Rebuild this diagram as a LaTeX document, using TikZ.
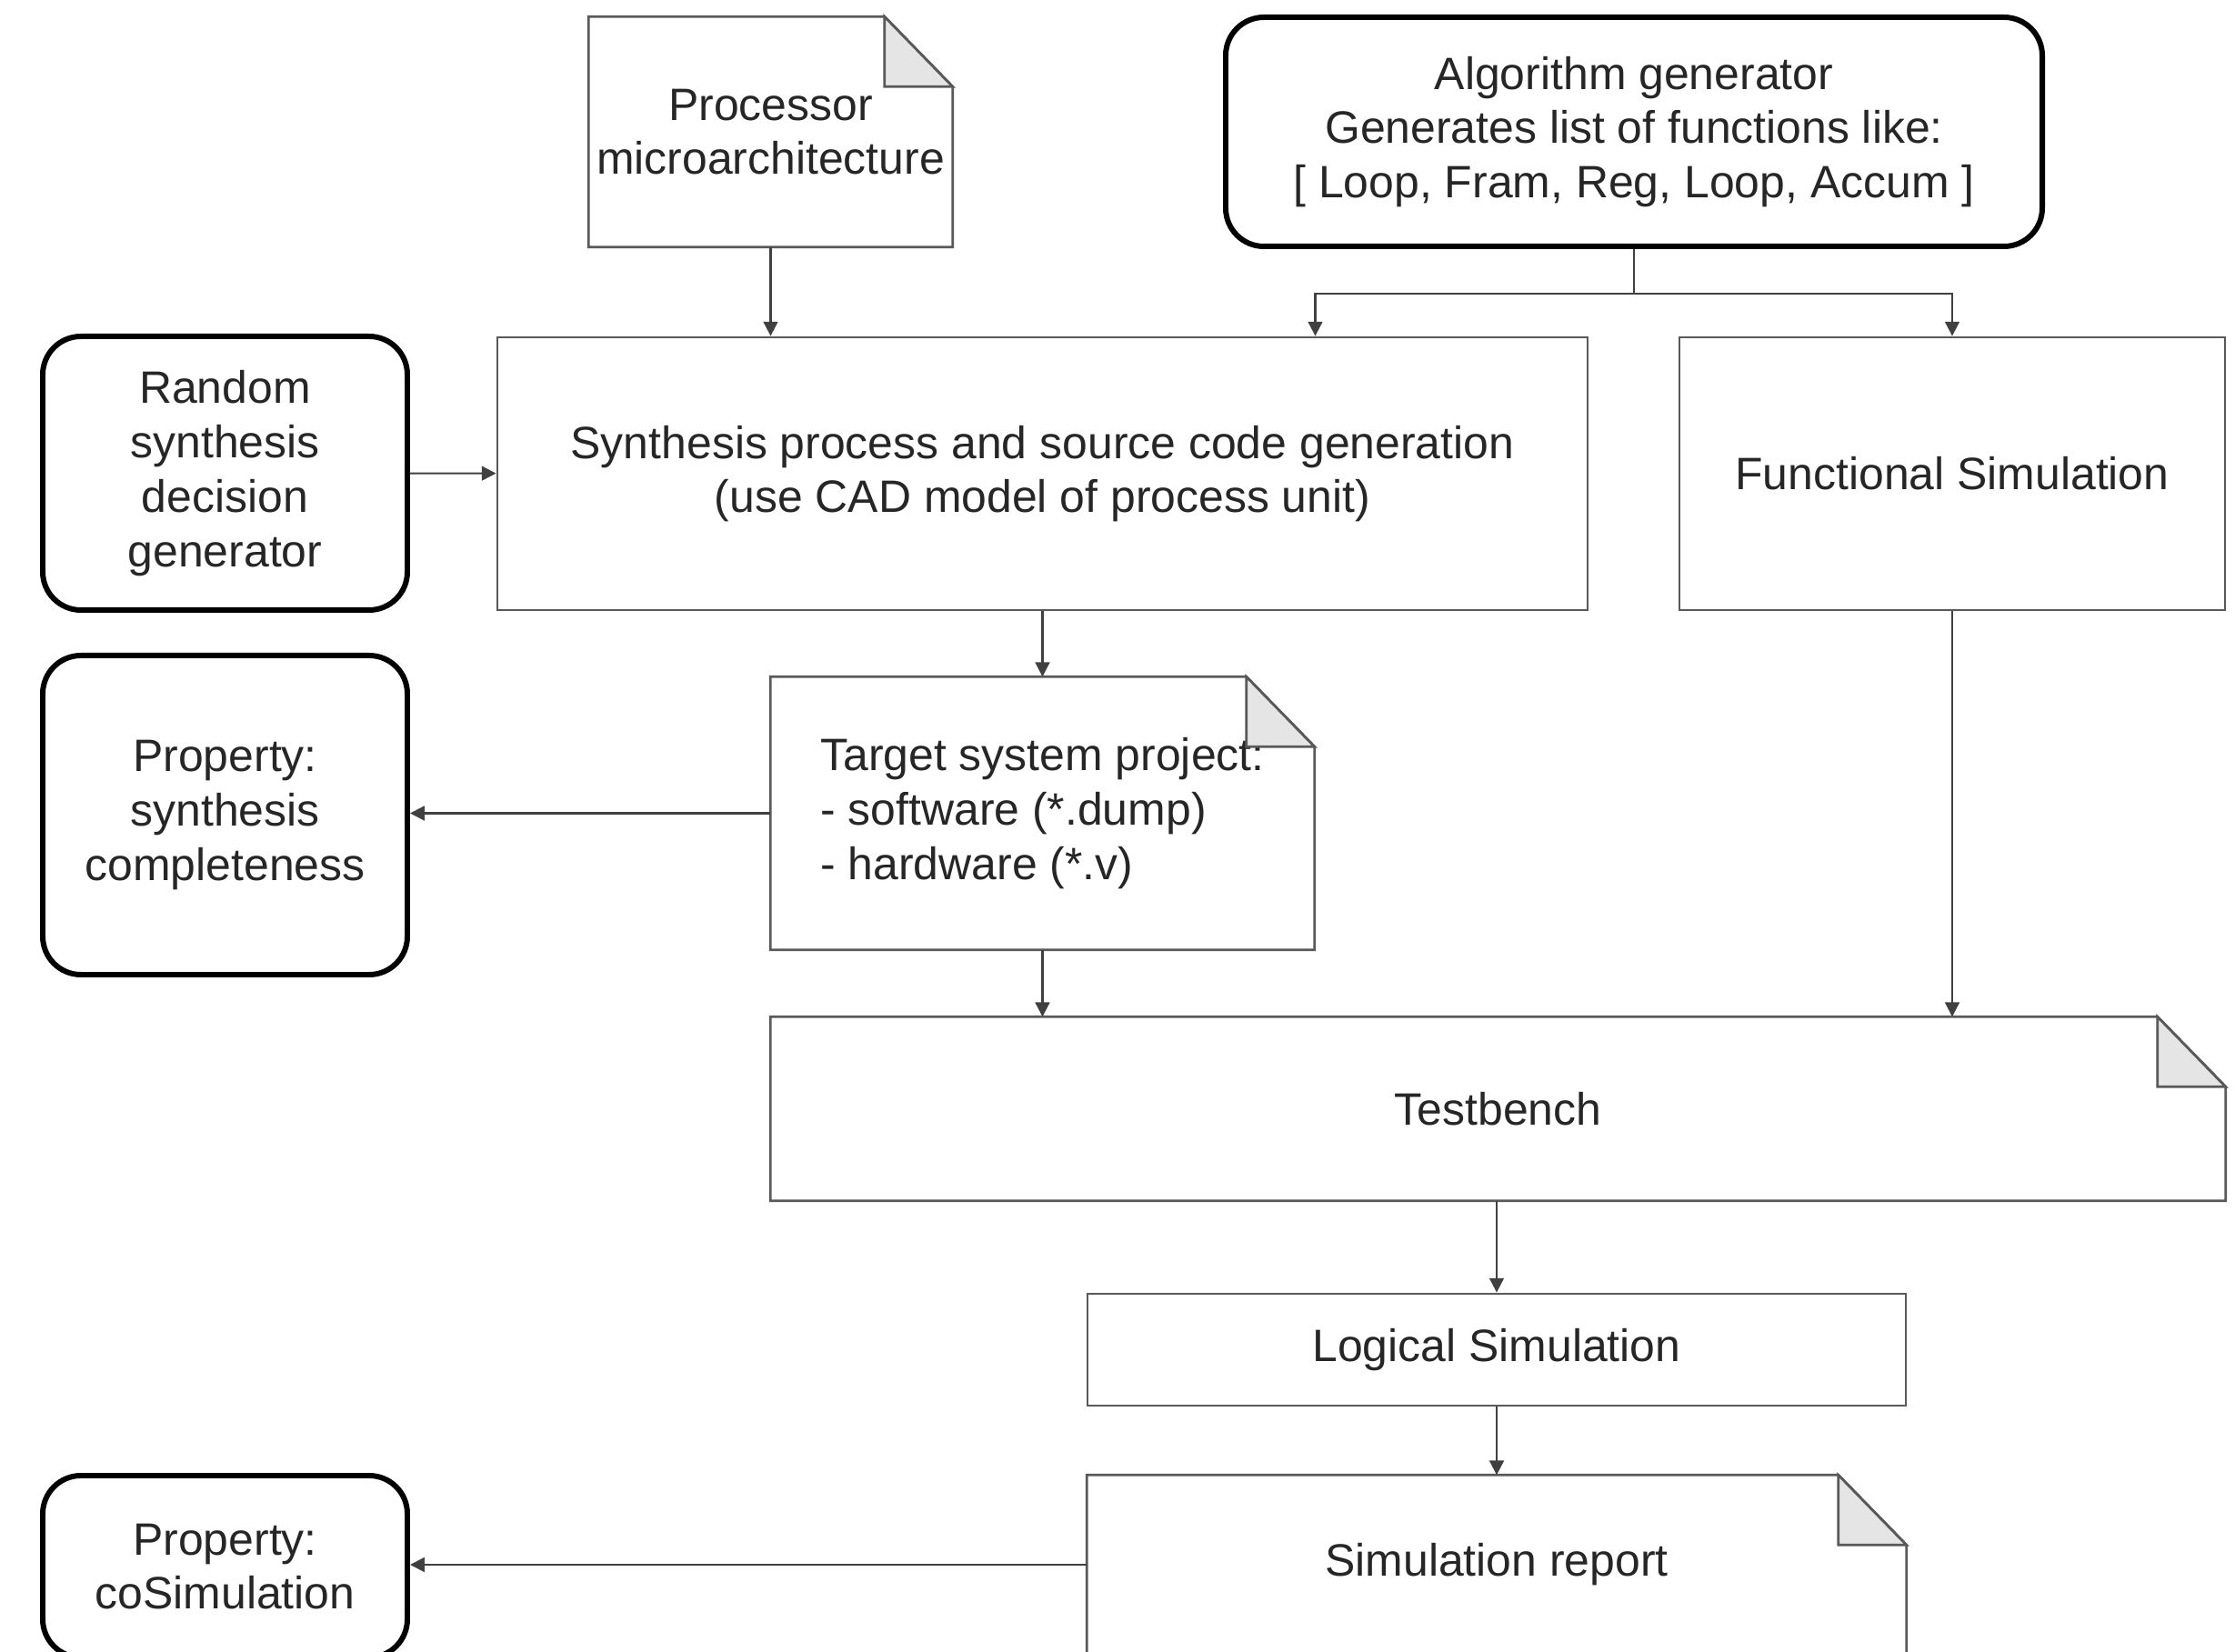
\documentclass[tikz,border=0pt]{standalone}
\usepackage{fontspec}
\setmainfont{Liberation Sans}
\usetikzlibrary{arrows.meta,positioning}
%
% Dog-ear outline for a "document" node
\newcommand{\docpage}[1]{%
  \draw [docline] (#1.south west) -- (#1.north west)
     -- ([xshift=-0.75cm]#1.north east) -- ([yshift=-0.77cm]#1.north east)
     -- (#1.south east) -- cycle;
  \draw [docline, fill=black!10] ([xshift=-0.75cm]#1.north east)
     -- ([xshift=-0.75cm,yshift=-0.77cm]#1.north east)
     -- ([yshift=-0.77cm]#1.north east) -- cycle;
}
%
\begin{document}
\begin{tikzpicture}[%{{{
    font=\fontsize{14.2}{17}\selectfont,
    every node/.style={text=black!85},
    plain/.style={draw=black!65, line width=0.8pt, inner sep=0pt},
    doc/.style={inner sep=0pt},
    docline/.style={draw=black!65, line width=0.8pt},
    gen/.style={draw=black, line width=1.7pt, rounded corners=0.42cm, inner sep=0pt},
    link/.style={draw=black!75, line width=0.6pt},
    arr/.style={link, -{Triangle[length=4.5pt,width=4.5pt]}},
  ]
\useasboundingbox (0,0) rectangle (24.58,-18.17);
%
% Inputs
\node [doc, minimum width=3.99cm, minimum height=2.52cm, align=center]
      (proc) at (8.475,-1.45) {Processor\\microarchitecture};
\docpage{proc}
\node [gen, minimum width=8.98cm, minimum height=2.52cm, align=center]
      (algo) at (17.97,-1.45)
      {Algorithm generator\\Generates list of functions like:\\{[} Loop, Fram, Reg, Loop, Accum {]}};
\node [gen, minimum width=4.01cm, minimum height=3.01cm, align=center]
      (rand) at (2.475,-5.205) {Random\\synthesis\\decision\\generator};
%
% Synthesis / functional simulation
\node [plain, minimum width=11.99cm, minimum height=3.0cm, align=center]
      (synth) at (11.465,-5.21)
      {Synthesis process and source code generation\\(use CAD model of process unit)};
\node [plain, minimum width=6.0cm, minimum height=3.0cm]
      (func) at (21.47,-5.21) {Functional Simulation};
%
% Target project
\node [doc, minimum width=5.97cm, minimum height=2.99cm, align=left]
      (target) at (11.465,-8.945)
      {Target system project:\\- software (*.dump)\\- hardware (*.v)};
\docpage{target}
\node [gen, minimum width=4.01cm, minimum height=3.51cm, align=center]
      (propsyn) at (2.475,-8.965) {Property:\\synthesis\\completeness};
%
% Testbench and simulation
\node [doc, minimum width=15.99cm, minimum height=2.01cm]
      (tb) at (16.475,-12.195) {Testbench};
\docpage{tb}
\node [plain, minimum width=9.0cm, minimum height=1.23cm]
      (logic) at (16.46,-14.845) {Logical Simulation};
\node [doc, minimum width=9.0cm, minimum height=1.96cm]
      (report) at (16.46,-17.21) {Simulation report};
\docpage{report}
\node [gen, minimum width=4.01cm, minimum height=2.0cm, align=center]
      (cosim) at (2.475,-17.23) {Property:\\coSimulation};
%
% Connectors
\coordinate (split) at ([yshift=-0.49cm]algo.south);
\draw [link] (algo.south) -- (split);
\draw [arr] (split) -| ([xshift=3cm]synth.north);
\draw [arr] (split) -| (func.north);
\draw [arr] (proc) -- (synth.north -| proc);
\draw [arr] (rand) -- (synth);
\draw [arr] (synth.south -| target) -- (target);
\draw [arr] (target.west) -- (target.west -| propsyn.east);
\draw [arr] (target.south) -- (tb.north -| target.south);
\draw [arr] (func.south) -- (tb.north -| func.south);
\draw [arr] (tb.south -| logic) -- (logic);
\draw [arr] (logic) -- (report);
\draw [arr] (report.west) -- (report.west -| cosim.east);
%
\end{tikzpicture}%}}}
\end{document}
